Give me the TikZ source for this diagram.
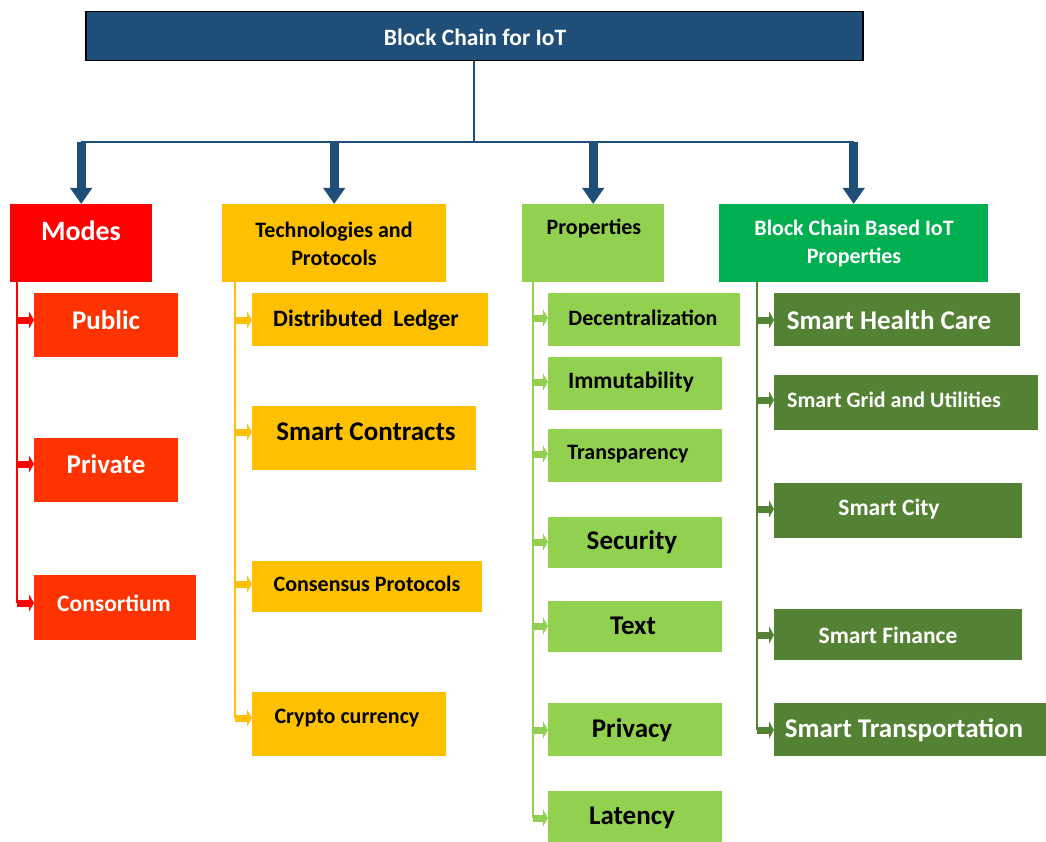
\documentclass[tikz,border=0pt]{standalone}
\usepackage{fontspec}
\setmainfont{Carlito}
\usetikzlibrary{arrows.meta}
\definecolor{chainblue}{HTML}{1F4E79}
\definecolor{modered}{HTML}{FF0000}
\definecolor{modeorange}{HTML}{FF3300}
\definecolor{techgold}{HTML}{FFC000}
\definecolor{proplight}{HTML}{92D050}
\definecolor{iotgreen}{HTML}{00B050}
\definecolor{iotdark}{HTML}{548235}

\begin{document}
\begin{tikzpicture}[x=1pt,y=-1pt]
\tikzstyle{every node}+=[inner sep=0pt]
\tikzstyle{box}=[anchor=north west, rectangle, draw=none]
\tikzstyle{txtS}=[font=\fontsize{22}{28}\selectfont\bfseries, align=center]
\tikzstyle{txtM}=[font=\fontsize{23.5}{28}\selectfont\bfseries, align=center]
\tikzstyle{txtL}=[font=\fontsize{27}{30}\selectfont\bfseries, align=center]
\tikzstyle{bus}=[draw=chainblue, line width=2]
\tikzstyle{bigarr}=[draw=chainblue, line width=9, -{Triangle[length=16,width=21]}]
\tikzstyle{twig}=[line width=7, -{Triangle[length=5,width=17]}]
\useasboundingbox (0,0) rectangle (1046,842);
% top
\node[box, fill=chainblue, draw=black, line width=1.5, minimum width=777, minimum height=49] (top) at (85,11) {};
\node[txtM, text=white] (ttop) at (475,37) {Block Chain for IoT};
% first level
\node[box, fill=modered, minimum width=142, minimum height=78] (modes) at (10,204) {};
\node[font=\fontsize{28}{30}\selectfont\bfseries, text=white] (tmodes) at (81,231) {Modes};
\node[box, fill=techgold, minimum width=224, minimum height=78] (tech) at (222,204) {};
\node[txtS] (ttech) at (334,244) {Technologies and\\Protocols};
\node[box, fill=proplight, minimum width=142, minimum height=78] (prop) at (522,204) {};
\node[txtS] (tprop) at (594,228) {Properties};
\node[box, fill=iotgreen, minimum width=269, minimum height=78] (bcb) at (719,204) {};
\node[txtS, text=white] (tbcb) at (854,244) {Block Chain Based IoT\\Properties};
% modes
\node[box, fill=modeorange, minimum width=144, minimum height=64] (pub) at (34,293) {};
\node[txtL, text=white] (tpub) at (106,320) {Public};
\node[box, fill=modeorange, minimum width=144, minimum height=64] (priv) at (34,438) {};
\node[txtL, text=white] (tpriv) at (106,464) {Private};
\node[box, fill=modeorange, minimum width=162, minimum height=65] (cons) at (34,575) {};
\node[txtM, text=white] (tcons) at (114,603) {Consortium};
% technologies
\node[box, fill=techgold, minimum width=236, minimum height=53] (dl) at (252,293) {};
\node[txtM] (tdl) at (366,320) {Distributed\ \ Ledger};
\node[box, fill=techgold, minimum width=224, minimum height=64] (sc) at (252,406) {};
\node[txtL] (tsc) at (366,432) {Smart Contracts};
\node[box, fill=techgold, minimum width=230, minimum height=51] (cp) at (252,561) {};
\node[txtS] (tcp) at (367,584) {Consensus Protocols};
\node[box, fill=techgold, minimum width=194, minimum height=64] (cc) at (252,692) {};
\node[txtS] (tcc) at (347,718) {Crypto currency};
% properties
\node[box, fill=proplight, minimum width=192, minimum height=53] (dec) at (548,293) {};
\node[txtS] (tdec) at (643,318) {Decentralization};
\node[box, fill=proplight, minimum width=174, minimum height=53] (imm) at (548,357) {};
\node[txtM] (timm) at (631,382) {Immutability};
\node[box, fill=proplight, minimum width=174, minimum height=53] (tra) at (548,429) {};
\node[txtS] (ttra) at (628,454) {Transparency};
\node[box, fill=proplight, minimum width=174, minimum height=51] (sec) at (548,517) {};
\node[txtL] (tsec) at (632,542) {Security};
\node[box, fill=proplight, minimum width=174, minimum height=51] (txt) at (548,601) {};
\node[txtL] (ttxt) at (633,626) {Text};
\node[box, fill=proplight, minimum width=174, minimum height=53] (pri) at (548,703) {};
\node[txtL] (tpri) at (632,730) {Privacy};
\node[box, fill=proplight, minimum width=174, minimum height=51] (lat) at (548,791) {};
\node[txtL] (tlat) at (632,818) {Latency};
% iot applications
\node[box, fill=iotdark, minimum width=246, minimum height=53] (shc) at (774,293) {};
\node[txtL, text=white] (tshc) at (889,320) {Smart Health Care};
\node[box, fill=iotdark, minimum width=264, minimum height=55] (sgu) at (774,375) {};
\node[txtS, text=white] (tsgu) at (894,400) {Smart Grid and Utilities};
\node[box, fill=iotdark, minimum width=248, minimum height=55] (sct) at (774,483) {};
\node[txtM, text=white] (tsct) at (889,509) {Smart City};
\node[box, fill=iotdark, minimum width=248, minimum height=51] (sfi) at (774,609) {};
\node[txtM, text=white] (tsfi) at (888,635) {Smart Finance};
\node[box, fill=iotdark, minimum width=272, minimum height=53] (str) at (774,703) {};
\node[txtL, text=white] (tstr) at (904,730) {Smart Transportation};
% bus and big arrows
\draw[bus] (top.south) -- ++(0,81) coordinate (busc);
\draw[bus] (modes.north |- busc) -- (bcb.north |- busc);
\draw[bigarr] (modes.north |- busc) -- (modes.north);
\draw[bigarr] (tech.north |- busc) -- (tech.north);
\draw[bigarr] (prop.north |- busc) -- (prop.north);
\draw[bigarr] (bcb.north |- busc) -- (bcb.north);
% trunks
\coordinate (mtr) at ([xshift=7]modes.south west);
\coordinate (ttr) at ([xshift=13]tech.south west);
\coordinate (ptr) at ([xshift=11]prop.south west);
\coordinate (btr) at ([xshift=38]bcb.south west);
\draw[modered, line width=2] (mtr) -- (mtr |- tcons);
\draw[techgold, line width=2] (ttr) -- (ttr |- tcc);
\draw[proplight, line width=2] (ptr) -- (ptr |- tlat);
\draw[iotdark, line width=2] (btr) -- (btr |- tstr);
\draw[twig, modered] (mtr |- tpub) -- (pub.west |- tpub);
\draw[twig, modered] (mtr |- tpriv) -- (priv.west |- tpriv);
\draw[twig, modered] (mtr |- tcons) -- (cons.west |- tcons);
\draw[twig, techgold] (ttr |- tdl) -- (dl.west |- tdl);
\draw[twig, techgold] (ttr |- tsc) -- (sc.west |- tsc);
\draw[twig, techgold] (ttr |- tcp) -- (cp.west |- tcp);
\draw[twig, techgold] (ttr |- tcc) -- (cc.west |- tcc);
\draw[twig, proplight] (ptr |- tdec) -- (dec.west |- tdec);
\draw[twig, proplight] (ptr |- timm) -- (imm.west |- timm);
\draw[twig, proplight] (ptr |- ttra) -- (tra.west |- ttra);
\draw[twig, proplight] (ptr |- tsec) -- (sec.west |- tsec);
\draw[twig, proplight] (ptr |- ttxt) -- (txt.west |- ttxt);
\draw[twig, proplight] (ptr |- tpri) -- (pri.west |- tpri);
\draw[twig, proplight] (ptr |- tlat) -- (lat.west |- tlat);
\draw[twig, iotdark] (btr |- tshc) -- (shc.west |- tshc);
\draw[twig, iotdark] (btr |- tsgu) -- (sgu.west |- tsgu);
\draw[twig, iotdark] (btr |- tsct) -- (sct.west |- tsct);
\draw[twig, iotdark] (btr |- tsfi) -- (sfi.west |- tsfi);
\draw[twig, iotdark] (btr |- tstr) -- (str.west |- tstr);
\end{tikzpicture}
\end{document}
